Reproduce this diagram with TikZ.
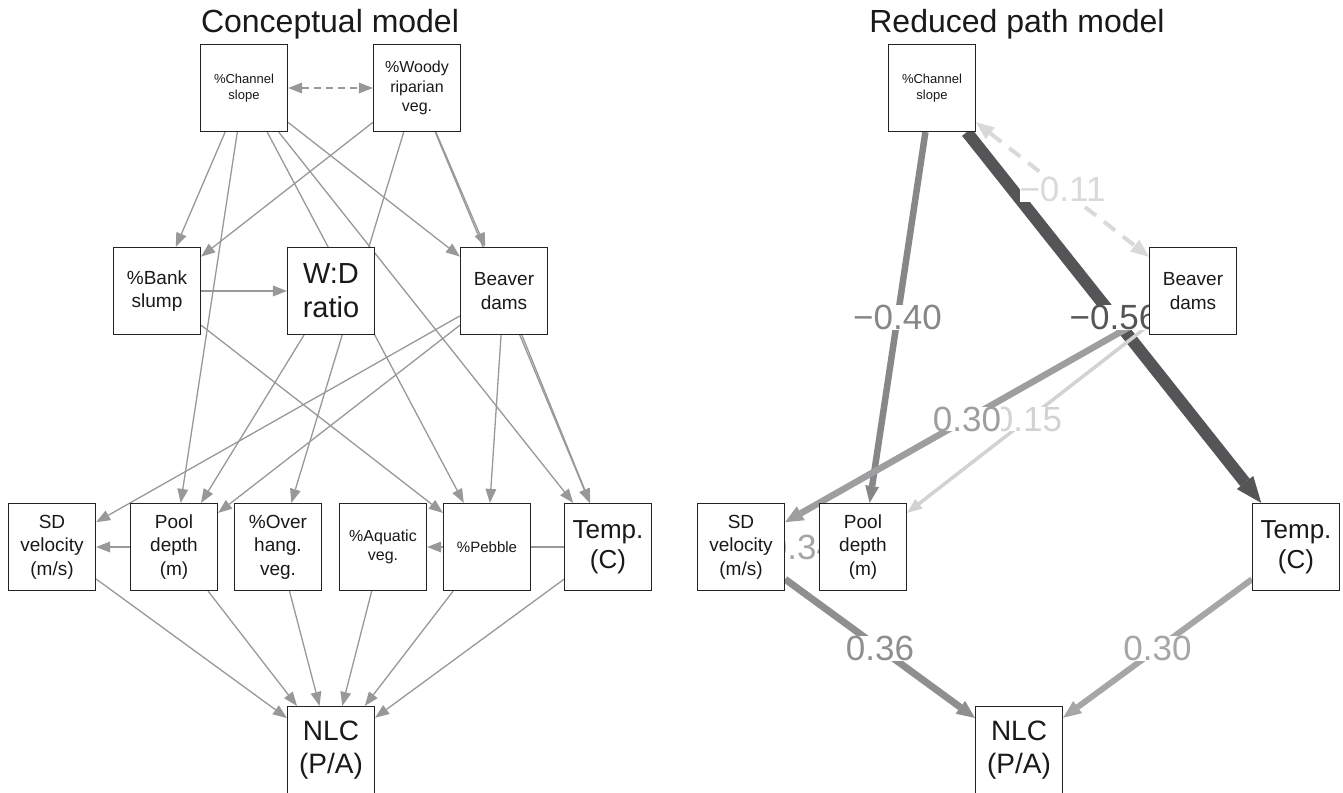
\documentclass[tikz,border=0pt]{standalone}
\usepackage{fontspec}
\setmainfont{Liberation Sans}
\usetikzlibrary{arrows.meta,calc}
\pgfdeclarelayer{edges}
\pgfdeclarelayer{labels}
\pgfsetlayers{edges,labels,main}
\definecolor{edgegray}{RGB}{152,152,155}
\definecolor{boxline}{RGB}{35,35,35}
\definecolor{cA}{RGB}{135,135,137}
\definecolor{cB}{RGB}{85,85,87}
\definecolor{cC}{RGB}{217,217,217}
\definecolor{cD}{RGB}{158,158,160}
\definecolor{cE}{RGB}{210,210,210}
\definecolor{cF}{RGB}{143,143,145}
\definecolor{cG}{RGB}{166,166,168}
\definecolor{cH}{RGB}{165,165,167}
\begin{document}
\begin{tikzpicture}[x=1pt,y=-1pt,
  box/.style={draw=boxline, line width=1.2pt, fill=white, minimum width=87pt, minimum height=87pt, inner sep=1pt, align=center, text=black!90},
  fsA/.style={font=\fontsize{13}{16}\selectfont},
  fsB/.style={font=\fontsize{16}{19.5}\selectfont},
  fsP/.style={font=\fontsize{15}{18}\selectfont},
  fsC/.style={font=\fontsize{19}{23.5}\selectfont},
  fsT/.style={font=\fontsize{26}{30}\selectfont},
  fsD/.style={font=\fontsize{29}{34}\selectfont},
  fsN/.style={font=\fontsize{28}{33}\selectfont},
  title/.style={anchor=base, font=\fontsize{32}{36}\selectfont, text=black!90},
  eg/.style={draw=edgegray, line width=1.3pt, -{Triangle[length=14pt,width=11pt,line width=0pt]}},
  egd/.style={draw=edgegray, line width=1.3pt, dash pattern=on 7pt off 5pt, {Triangle[length=14pt,width=11pt,line width=0pt]}-{Triangle[length=14pt,width=11pt,line width=0pt]}},
  re/.style args={#1/#2/#3/#4}{draw=#1, line width=#2, -{Triangle[length=#3,width=#4,line width=0pt]}},
  lab/.style={fill=white, inner sep=0pt, font=\fontsize{35}{40}\selectfont}
]
\useasboundingbox (0,0) rectangle (1343,792);

% titles
\node[title] (t1) at (330,33) {Conceptual model};
\node[title] (t2) at (1017,33) {Reduced path model};

% ---------- left panel nodes ----------
\node[box,fsA] (ch) at (244,88) {\%Channel\\slope};
\node[box,fsB] (wo) at (417,88) {\%Woody\\riparian\\veg.};
\node[box,fsC] (bk) at (157,291) {\%Bank\\slump};
\node[box,fsD] (wd) at (331,291) {W:D\\ratio};
\node[box,fsC] (bv) at (504,291) {Beaver\\dams};
\node[box,fsC] (sd) at (52,547) {SD\\velocity\\(m/s)};
\node[box,fsC] (pd) at (174,547) {Pool\\depth\\(m)};
\node[box,fsC] (ov) at (278,547) {\%Over\\hang.\\veg.};
\node[box,fsB] (aq) at (383,547) {\%Aquatic\\veg.};
\node[box,fsP] (pb) at (487,547) {\%Pebble};
\node[box,fsT] (tp) at (608,547) {Temp.\\(C)};
\node[box,fsN] (nl) at (331,750) {NLC\\(P/A)};

% ---------- right panel nodes ----------
\node[box,fsA] (ch2) at (932,88) {\%Channel\\slope};
\node[box,fsC] (bv2) at (1193,291) {Beaver\\dams};
\node[box,fsC] (sd2) at (741,547) {SD\\velocity\\(m/s)};
\node[box,fsC] (pd2) at (863,547) {Pool\\depth\\(m)};
\node[box,fsT] (tp2) at (1296,547) {Temp.\\(C)};
\node[box,fsN] (nl2) at (1019,750) {NLC\\(P/A)};

\begin{pgfonlayer}{edges}
% left edges
\draw[egd] (ch) -- (wo);
\draw[eg] (ch) -- (bk);
\draw[eg] (ch) -- (pd);
\draw[eg] (ch) -- (pb);
\draw[eg] (ch) -- (tp);
\draw[eg] (ch) -- (bv);
\draw[eg] (wo) -- (bk);
\draw[eg] (wo) -- (ov);
\draw[eg] (wo) -- (bv);
\draw[eg] (wo) -- (tp);
\draw[eg] (bk) -- (wd);
\draw[eg] (bk) -- (pb);
\draw[eg] (wd) -- (pd);
\draw[eg] (bv) -- (sd);
\draw[eg] (bv) -- (pd);
\draw[eg] (bv) -- (pb);
\draw[eg] (bv) -- (tp);
\draw[eg] (pd) -- (sd);
\draw[eg] (tp) -- (aq);
\draw[eg] (sd) -- (nl);
\draw[eg] (pd) -- (nl);
\draw[eg] (ov) -- (nl);
\draw[eg] (aq) -- (nl);
\draw[eg] (pb) -- (nl);
\draw[eg] (tp) -- (nl);
% right edges
\draw[re={cH/6pt/17pt/14pt}] (pd2) -- (sd2);
\draw[re={cA/6.5pt/17pt/14pt}] (ch2) -- (pd2);
\draw[re={cB/12pt/26pt/21pt}] (ch2) -- (tp2);
\draw[draw=cC, line width=4pt, dash pattern=on 14pt off 10pt, {Triangle[length=18pt,width=15pt,line width=0pt]}-{Triangle[length=18pt,width=15pt,line width=0pt]}] (ch2) -- (bv2);
\draw[re={cD/6.5pt/18pt/16pt}] (bv2) -- (sd2);
\draw[re={cE/3.5pt/15pt/12pt}] (bv2) -- (pd2);
\draw[re={cF/7pt/18pt/16pt}] (sd2) -- (nl2);
\draw[re={cG/6pt/18pt/15pt}] (tp2) -- (nl2);
\end{pgfonlayer}

\begin{pgfonlayer}{labels}
\node[lab,text=cH] (l8) at ($(pd2)!0.5!(sd2)$) {0.34};
\node[lab,text=cC] (l3) at ($(ch2)!0.5!(bv2)$) {−0.11};
\node[lab,text=cA] (l1) at ($(ch2)!0.5!(pd2)$) {−0.40};
\node[lab,text=cB] (l2) at ($(ch2)!0.5!(tp2)$) {−0.56};
\node[lab,text=cE] (l5) at ($(bv2)!0.5!(pd2)$) {0.15};
\node[lab,text=cD] (l4) at ($(bv2)!0.5!(sd2)$) {0.30};
\node[lab,text=cF] (l6) at ($(sd2)!0.5!(nl2)$) {0.36};
\node[lab,text=cG] (l7) at ($(tp2)!0.5!(nl2)$) {0.30};
\end{pgfonlayer}
\end{tikzpicture}
\end{document}
